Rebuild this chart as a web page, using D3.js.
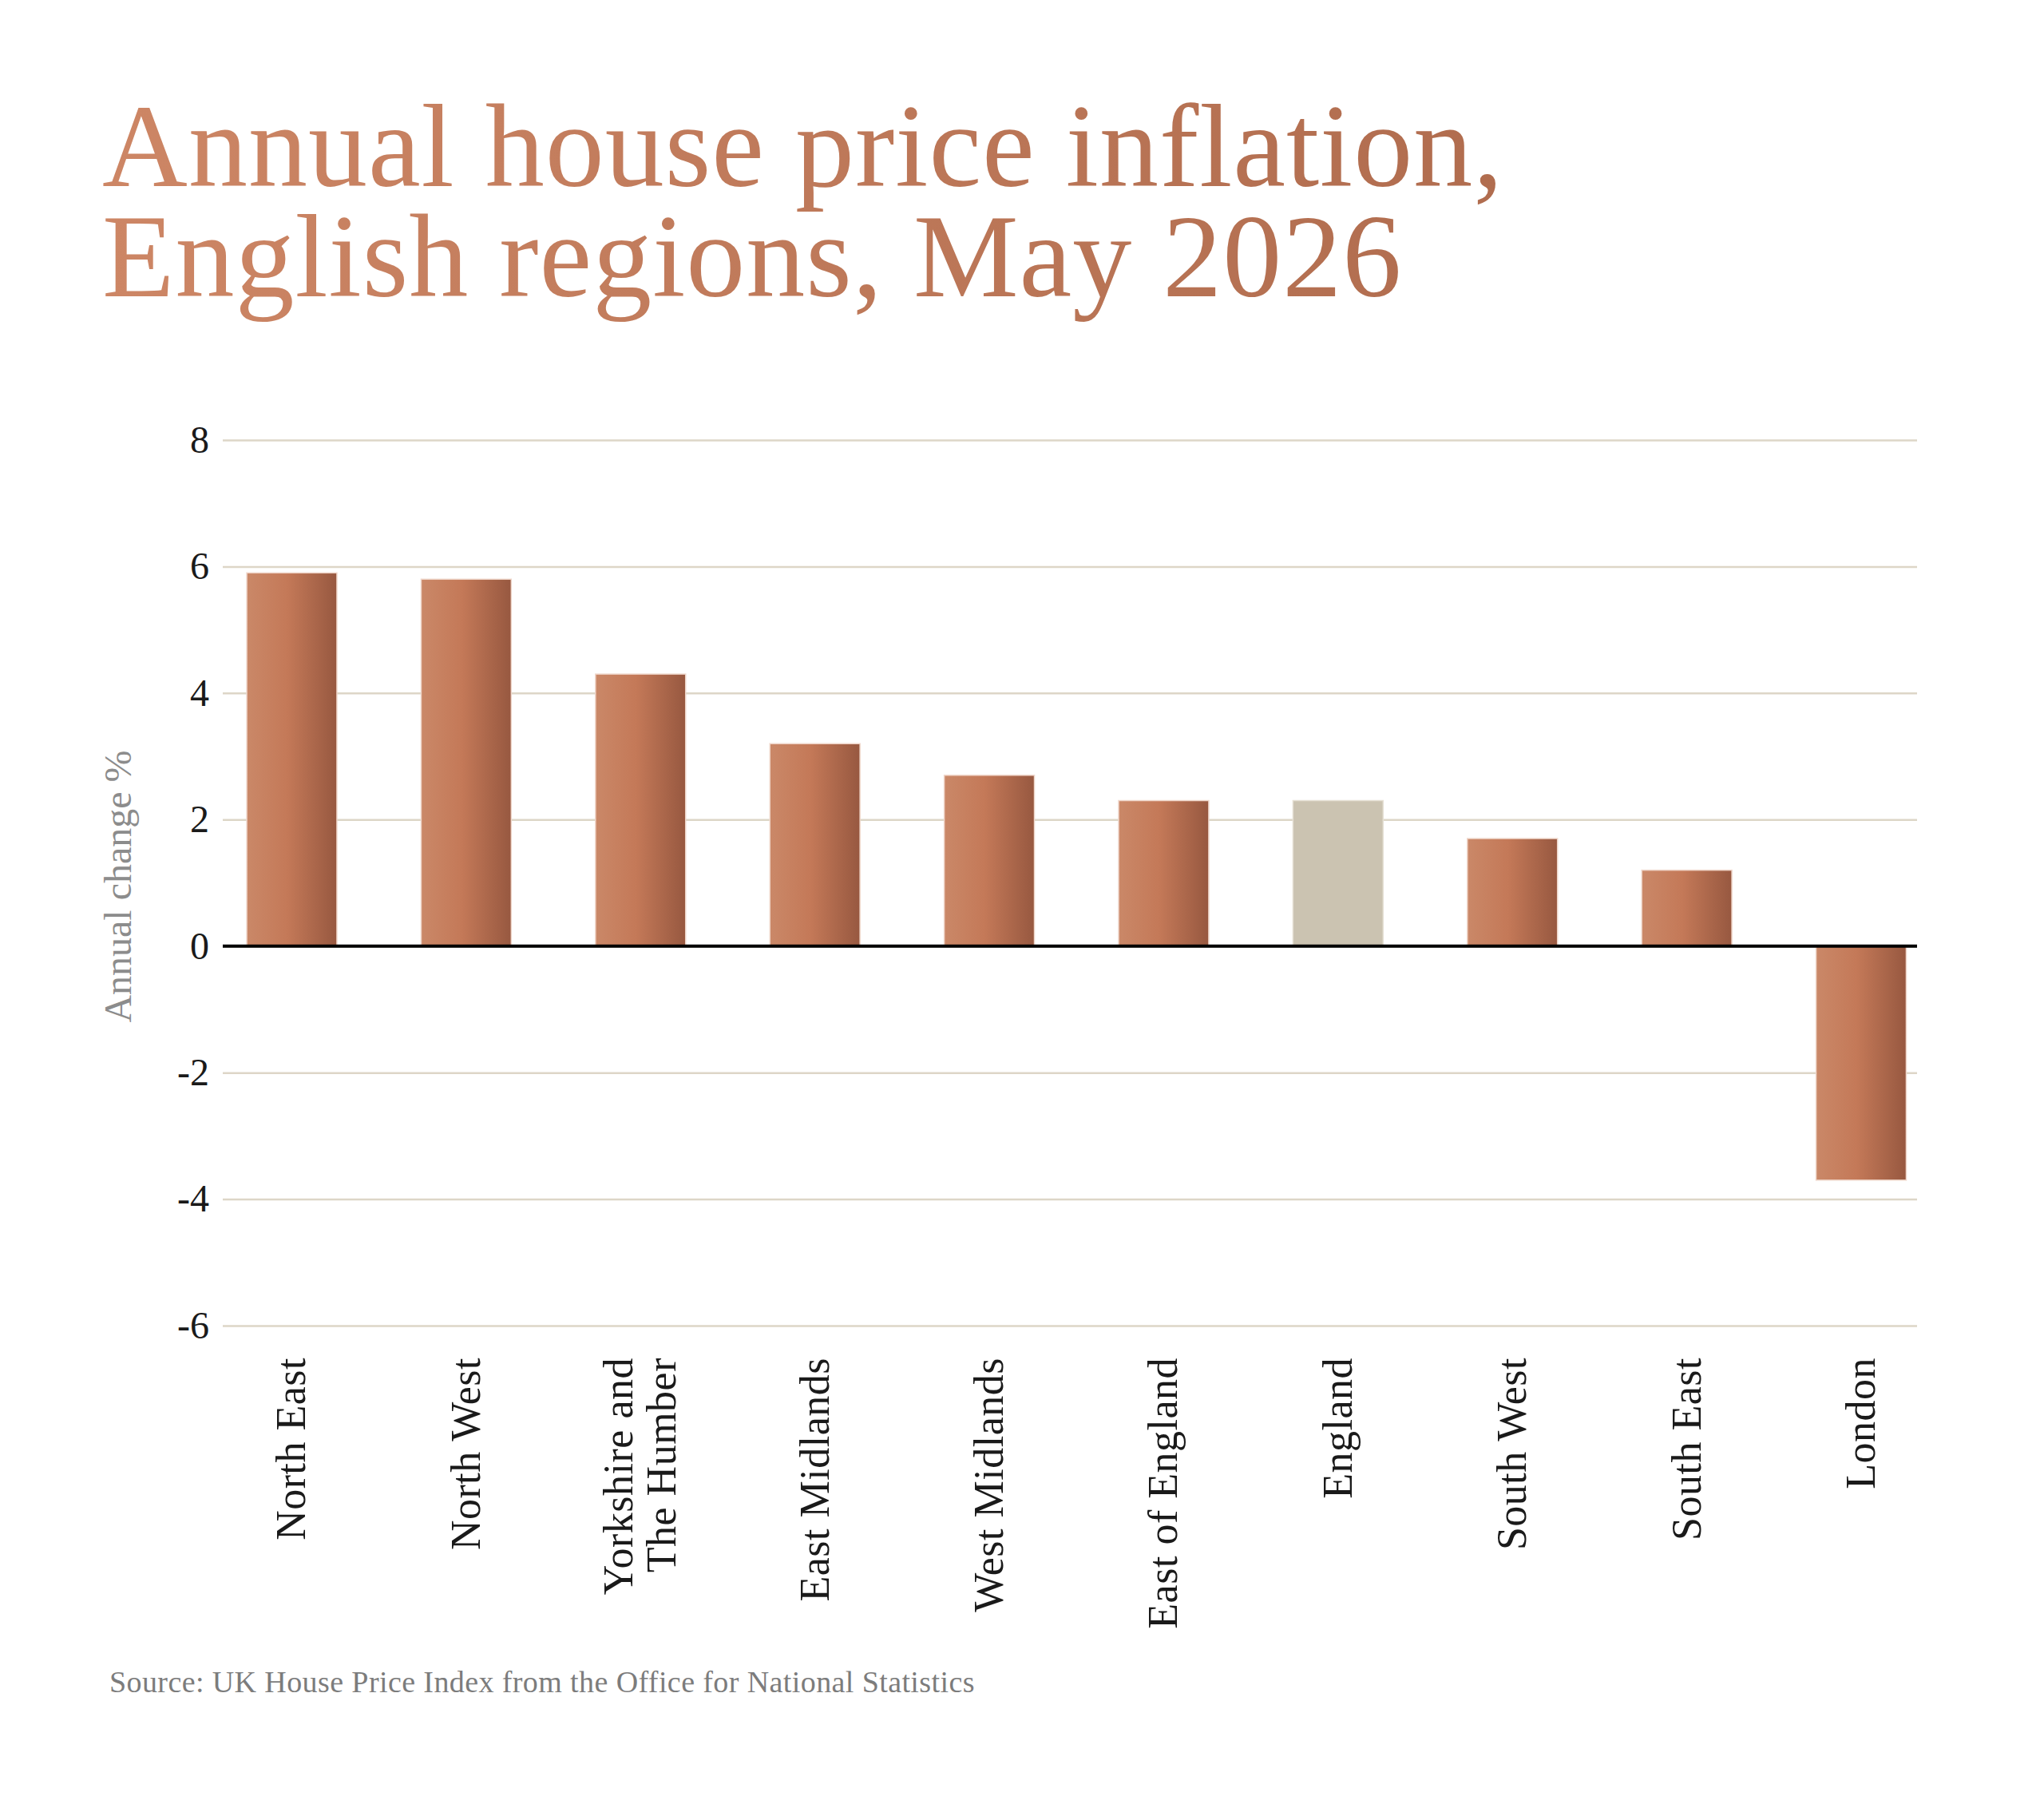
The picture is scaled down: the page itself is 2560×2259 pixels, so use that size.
<!DOCTYPE html>
<html>
<head>
<meta charset="utf-8">
<script src="https://cdn.jsdelivr.net/npm/d3@7"></script>
<style>
  html, body { margin: 0; padding: 0; background: #ffffff; }
  svg { display: block; }
</style>
</head>
<body>
<svg id="chart" width="2560" height="2259"></svg>
<script>
const titleLines = ["Annual house price inflation,", "English regions, May 2026"];
const categories = ["North East", "North West", "Yorkshire and The Humber", "East Midlands", "West Midlands", "East of England", "England", "South West", "South East", "London"];
const categoryLabelLines = [["North East"], ["North West"], ["Yorkshire and", "The Humber"], ["East Midlands"], ["West Midlands"], ["East of England"], ["England"], ["South West"], ["South East"], ["London"]];
const values = [5.9, 5.8, 4.3, 3.2, 2.7, 2.3, 2.3, 1.7, 1.2, -3.7];
const highlightCategory = "England";
const yTicks = [-6, -4, -2, 0, 2, 4, 6, 8];
const yAxisTitle = "Annual change %";
const sourceText = "Source: UK House Price Index from the Office for National Statistics";

const svg = d3.select("#chart");
const serif = "'Liberation Serif', 'DejaVu Serif', serif";

const defs = svg.append("defs");
const barGrad = defs.append("linearGradient").attr("id", "barGrad")
  .attr("x1", "0%").attr("x2", "100%").attr("y1", "0%").attr("y2", "0%");
barGrad.append("stop").attr("offset", "0%").attr("stop-color", "#ca8868");
barGrad.append("stop").attr("offset", "45%").attr("stop-color", "#c47958");
barGrad.append("stop").attr("offset", "100%").attr("stop-color", "#975840");

const titleGrad = defs.append("linearGradient").attr("id", "titleGrad")
  .attr("gradientUnits", "userSpaceOnUse")
  .attr("x1", 128).attr("x2", 1912).attr("y1", 0).attr("y2", 0);
titleGrad.append("stop").attr("offset", "0%").attr("stop-color", "#cd8665");
titleGrad.append("stop").attr("offset", "100%").attr("stop-color", "#b06c4e");

// Title
svg.append("g").selectAll("text").data(titleLines).join("text")
  .attr("x", 128)
  .attr("y", (d, i) => 233 + i * 138)
  .attr("font-family", serif)
  .attr("font-size", 148)
  .attr("letter-spacing", 1)
  .attr("fill", "url(#titleGrad)")
  .text(d => d);

// Scales
const plotLeft = 279, plotRight = 2401;
const y = d3.scaleLinear().domain([-6, 8]).range([1660, 551]);
const x = d3.scaleBand().domain(categories).range([256.3, 2440.2])
  .paddingInner(0.483).paddingOuter(0.2415);

// Y axis with gridlines
const yAxis = d3.axisLeft(y).tickValues(yTicks)
  .tickSize(-(plotRight - plotLeft)).tickPadding(17)
  .tickFormat(d3.format("d"));
const gy = svg.append("g").attr("transform", `translate(${plotLeft},0)`).call(yAxis);
gy.select(".domain").remove();
gy.selectAll(".tick line").attr("stroke", "#ddd6c7").attr("stroke-width", 2.5);
gy.selectAll(".tick text")
  .attr("font-family", serif).attr("font-size", 48).attr("fill", "#1a1a1a")
  .text(d => d < 0 ? "-" + Math.abs(d) : String(d));

// Y axis title
svg.append("text")
  .attr("transform", "translate(164,1110) rotate(-90)")
  .attr("text-anchor", "middle")
  .attr("font-family", serif).attr("font-size", 48)
  .attr("fill", "#8c8c8c")
  .text(yAxisTitle);

// Bars
svg.append("g").selectAll("rect").data(categories).join("rect")
  .attr("x", d => x(d))
  .attr("width", x.bandwidth())
  .attr("y", (d, i) => y(Math.max(0, values[i])))
  .attr("height", (d, i) => Math.abs(y(values[i]) - y(0)))
  .attr("fill", d => d === highlightCategory ? "#cbc3b1" : "url(#barGrad)")
  .attr("stroke", d => d === highlightCategory ? "#e6e0d4" : "#efd6ca")
  .attr("stroke-width", 1.5);

// Zero line
svg.append("line")
  .attr("x1", plotLeft).attr("x2", plotRight)
  .attr("y1", y(0)).attr("y2", y(0))
  .attr("stroke", "#000000").attr("stroke-width", 4);

// X labels (rotated)
const xl = svg.append("g").selectAll("g").data(categories).join("g")
  .attr("transform", d => `translate(${x(d) + x.bandwidth() / 2},1700)`);
xl.each(function(d, i) {
  const lines = categoryLabelLines[i];
  const n = lines.length;
  const lh = 54;
  d3.select(this).selectAll("text").data(lines).join("text")
    .attr("transform", (t, j) => `translate(${17 + (j - (n - 1) / 2) * lh},0) rotate(-90)`)
    .attr("text-anchor", "end")
    .attr("font-family", serif).attr("font-size", 52)
    .attr("letter-spacing", 0.5)
    .attr("fill", "#1a1a1a")
    .text(t => t);
});

// Source
svg.append("text")
  .attr("x", 137).attr("y", 2119)
  .attr("font-family", serif).attr("font-size", 38)
  .attr("letter-spacing", 0.4)
  .attr("fill", "#7c7c7c")
  .text(sourceText);
</script>
</body>
</html>
